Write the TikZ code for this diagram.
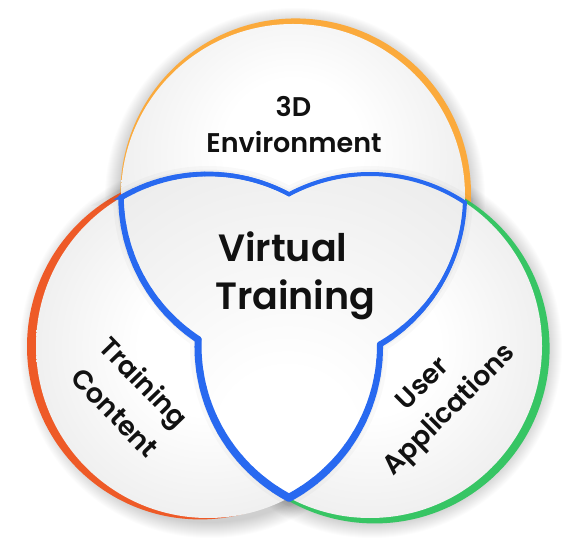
\documentclass[tikz,border=0pt]{standalone}
\usepackage{fontspec}
\setmainfont{Poppins}[BoldFont={Poppins SemiBold}]
\definecolor{corange}{HTML}{FBAA3C}
\definecolor{cred}{HTML}{EE5A27}
\definecolor{cgreen}{HTML}{37C564}
\definecolor{cblue}{HTML}{2869F0}
\definecolor{ctext}{HTML}{111111}
\pgfdeclareradialshading{greyT}{\pgfpoint{0bp}{8bp}}{color(0bp)=(white); color(10bp)=(white); color(50bp)=(black!16); color(75bp)=(black!16)}
\pgfdeclareradialshading{greyC}{\pgfpoint{0bp}{0bp}}{color(0bp)=(white); color(10bp)=(white); color(50bp)=(black!16); color(75bp)=(black!16)}
\pgfdeclareradialshading{greyU}{\pgfpoint{-1bp}{-18bp}}{color(0bp)=(white); color(10bp)=(white); color(45bp)=(black!9); color(65bp)=(black!16); color(80bp)=(black!16)}
\newcommand{\Upath}{(L) ++(120.38:172) arc[start angle=120.38,end angle=61.90,radius=172]
  arc[start angle=118.10,end angle=56.52,radius=172]
  arc[start angle=-2.18,end angle=-59.62,radius=172]
  arc[start angle=0.54,end angle=-61.90,radius=172]
  arc[start angle=241.90,end angle=177.82,radius=172]
  arc[start angle=236.52,end angle=180.54,radius=172] -- cycle}
\newcommand{\taper}[5]{%
  \foreach \k in {0,...,11}{%
    \pgfmathsetmacro\aA{#2+(#3-#2)*\k/12}%
    \pgfmathsetmacro\aB{#2+(#3-#2)*(\k+1)/12}%
    \pgfmathsetmacro\wW{#4+(#5-#4)*(\k+0.5)/12}%
    \draw[blueline, line width=\wW pt] ([shift={(\aA:172)}]#1) arc[start angle=\aA, end angle=\aB, radius=172];
  }}
\begin{document}
\begin{tikzpicture}[x=1pt,y=1pt,
  blueline/.style={draw=cblue, line cap=round, line join=round},
  lbl/.style={text=ctext, font=\fontsize{27}{27}\selectfont\bfseries, inner sep=0pt},
  biglbl/.style={text=ctext, font=\fontsize{38}{38}\selectfont\bfseries, inner sep=0pt}]
\useasboundingbox (0,0) rectangle (588,551);
\fill[white] (0,0) rectangle (588,551);
\coordinate (T) at (293,355);
\coordinate (L) at (208,205);
\coordinate (R) at (370,205);
% soft outer shadow
\foreach \i in {1,...,16}{%
  \pgfmathsetmacro\rr{174+\i}%
  \fill[black, opacity=0.01] ([shift={(2,-2)}]T) circle (\rr);
  \fill[black, opacity=0.01] ([shift={(2,-2)}]L) circle (\rr);
  \fill[black, opacity=0.01] ([shift={(2,-2)}]R) circle (\rr);
}
% coloured rims
\fill[corange] ([shift={(40:3.5)}]T) circle (175.3);
\fill[cred] ([shift={(183:8)}]L) circle (173);
\fill[cgreen] ([shift={(-28:5.2)}]R) circle (175);
% grey discs
\shade[shading=greyT] (T) circle (172);
\shade[shading=greyC] (L) circle (172);
\shade[shading=greyC] (R) circle (172);
% shadow round the overlap region
\draw[black, opacity=0.025, line width=16pt] \Upath;
\draw[black, opacity=0.03, line width=9pt] \Upath;
\shade[shading=greyU] \Upath;
% blue outline of the overlap region
\draw[cblue, line width=4pt, line join=miter, miter limit=10] \Upath;
\taper{L}{120.38}{61.90}{5.5}{4}
\taper{R}{118.10}{56.52}{3.5}{2.2}
\taper{T}{-2.18}{-59.62}{2.2}{6}
\taper{L}{0.54}{-61.90}{6}{8}
\taper{R}{241.90}{177.82}{8}{7}
\taper{T}{236.52}{180.54}{7}{5.5}
% labels
\node[lbl, anchor=base] (n3d) at (293.5,434) {3D};
\node[lbl, anchor=base] (nenv) at (294,398) {Environment};
\node[biglbl, anchor=base west] (nvirt) at (218,289) {Virtual};
\node[biglbl, anchor=base west] (ntrain) at (215,241) {Training};
\node[lbl, anchor=base, rotate=-46] (ntr) at (137,162) {Training};
\node[lbl, anchor=base, rotate=-46] (ncon) at (108,131.5) {Content};
\node[lbl, anchor=base, rotate=45] (nuser) at (428.5,161.5) {User};
\node[lbl, anchor=base, rotate=45] (napp) at (455,135.5) {Applications};
\end{tikzpicture}
\end{document}
